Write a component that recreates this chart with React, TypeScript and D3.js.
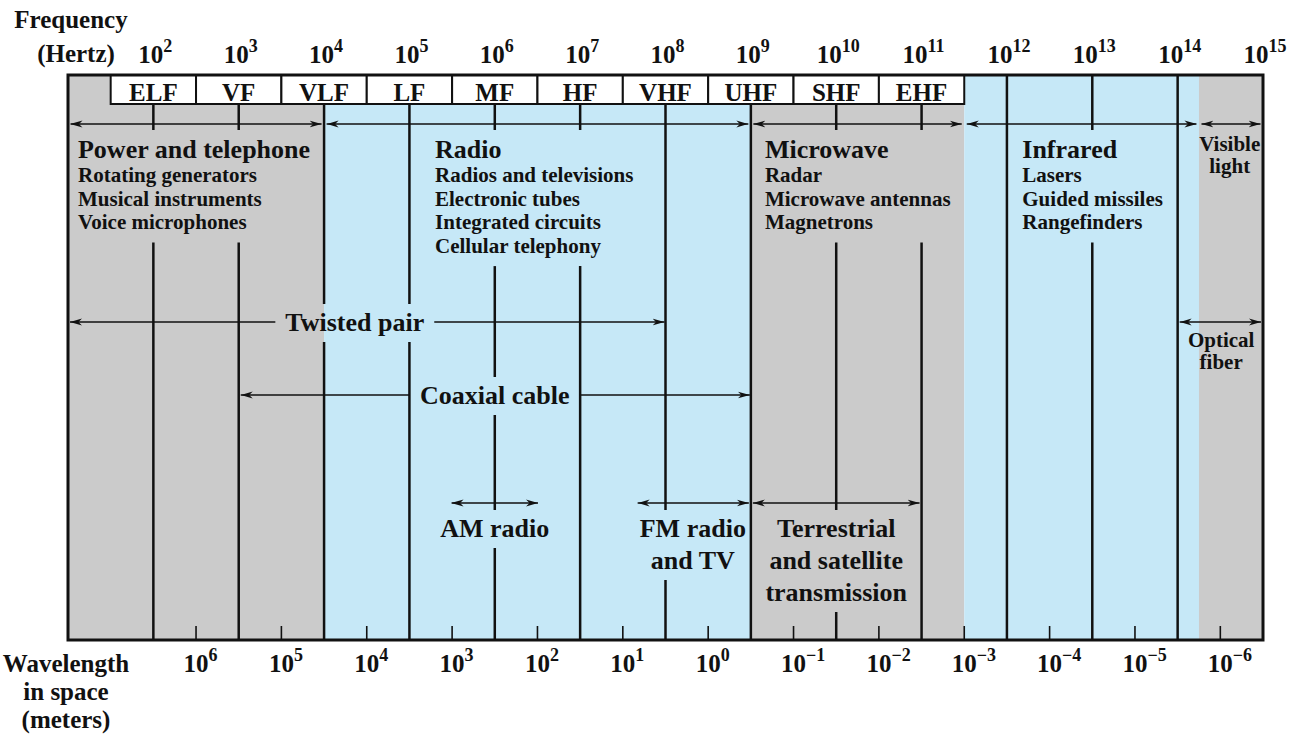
import React, { useEffect, useRef } from "react";
import * as d3 from "d3";

// ---------------- data ----------------
const FREQ_MIN = 1e1;
const FREQ_MAX = 1e15;
const FREQ_TICK_EXPONENTS = [2, 3, 4, 5, 6, 7, 8, 9, 10, 11, 12, 13, 14, 15];
const DECADE_LINE_EXPONENTS = [2, 3, 4, 5, 6, 7, 8, 9, 10, 11, 12, 13, 14];
const BAND_NAMES = ["ELF", "VF", "VLF", "LF", "MF", "HF", "VHF", "UHF", "SHF", "EHF"];
const BAND_LOWER_EXPONENTS = [1.5, 2.5, 3.5, 4.5, 5.5, 6.5, 7.5, 8.5, 9.5, 10.5];
const WAVELENGTH_EXPONENTS = [6, 5, 4, 3, 2, 1, 0, -1, -2, -3, -4, -5, -6];
const LIGHT_SPEED_DIAGRAM = 10 ** 8.5; // the figure rounds c so wavelength ticks sit on half decades
const REGION_EDGES = [1e1, 1e4, 1e9, 10 ** 11.5, 10 ** 14.25, 1e15];
const REGION_KINDS = ["gray", "blue", "gray", "blue", "gray"];

const SPECTRUM_NAMES = ["Power and telephone", "Radio", "Microwave", "Infrared", "Visible light"];
const SPECTRUM_ITEMS = [
  ["Rotating generators", "Musical instruments", "Voice microphones"],
  ["Radios and televisions", "Electronic tubes", "Integrated circuits", "Cellular telephony"],
  ["Radar", "Microwave antennas", "Magnetrons"],
  ["Lasers", "Guided missiles", "Rangefinders"],
  [],
];
const SPECTRUM_TEXT_FREQ = [10 ** 1.117, 10 ** 5.3, 10 ** 9.165, 10 ** 12.18, 10 ** 14.61];
const SPECTRUM_CUTS = [[2, 3], [6, 7], [10, 11], [13], []];

const MEDIA_NAMES = ["Twisted pair", "Coaxial cable", "Optical fiber"];
const MEDIA_FROM = [1e1, 1e3, 1e14];
const MEDIA_TO = [1e8, 1e9, 1e15];
const MEDIA_TEXT_FREQ = [10 ** 4.36, 1e6, 10 ** 14.51];
const MEDIA_CUTS = [[4, 5], [6], []];

const SERVICE_LINES = [["AM radio"], ["FM radio", "and TV"], ["Terrestrial", "and satellite", "transmission"]];
const SERVICE_FROM = [10 ** 5.47, 10 ** 7.65, 1e9];
const SERVICE_TO = [10 ** 6.53, 1e9, 1e11];
const SERVICE_TEXT_FREQ = [1e6, 10 ** 8.32, 1e10];
const SERVICE_CUTS = [[6], [8], [10]];

// ---------------- layout / style ----------------
const W = 1299;
const H = 738;
const L = {
  left: 68,
  right: 1263,
  frameTop: 75,
  bandBottom: 104,
  frameBottom: 640,
  bandLabelY: 101,
  topArrowY: 124,
  headingY: 158,
  itemY0: 182,
  itemStep: 23.7,
  visibleY0: 151,
  visibleStep: 22,
  serviceArrowY: 503,
  serviceTextY0: 537,
  serviceTextStep: 32,
  freqTickY: 63,
  waveTickY: 672,
};
const MEDIA_ROW_Y = [322, 395, 322];
const MEDIA_INLINE = [true, true, false];
const COLORS: Record<string, string> = { gray: "#cbcbcb", blue: "#c6e8f7" };
const INK = "#111";
const FS = { title: 25, tick: 25, sup: 18, band: 25, heading: 26, item: 21, label: 26, small: 21 };
const FONT = `"Liberation Serif", "Times New Roman", Times, serif`;

export default function App() {
  const ref = useRef<SVGSVGElement>(null);

  useEffect(() => {
    const svg = d3.select(ref.current as SVGSVGElement);
    svg.selectAll("*").remove();
    svg.attr("font-family", FONT).attr("font-weight", "bold").attr("fill", INK);

    const x = d3.scaleLog().domain([FREQ_MIN, FREQ_MAX]).range([L.left, L.right]);

    const defs = svg.append("defs");
    defs
      .append("marker")
      .attr("id", "ah")
      .attr("viewBox", "0 0 12 8")
      .attr("refX", 12)
      .attr("refY", 4)
      .attr("markerWidth", 12)
      .attr("markerHeight", 8)
      .attr("markerUnits", "userSpaceOnUse")
      .attr("orient", "auto-start-reverse")
      .append("path")
      .attr("d", "M0,0.6 L12,4 L0,7.4 L3.5,4 Z")
      .attr("fill", INK);

    const gBg = svg.append("g");
    const gLines = svg.append("g");
    const gArrows = svg.append("g");
    const gText = svg.append("g");
    const gFrame = svg.append("g");

    // background regions
    REGION_KINDS.forEach((k, i) => {
      gBg
        .append("rect")
        .attr("x", x(REGION_EDGES[i]))
        .attr("width", x(REGION_EDGES[i + 1]) - x(REGION_EDGES[i]))
        .attr("y", L.frameTop)
        .attr("height", L.frameBottom - L.frameTop)
        .attr("fill", COLORS[k]);
    });

    const gaps = new Map<number, [number, number][]>();
    const addGap = (k: number, a: number, b: number) => {
      if (!gaps.has(k)) gaps.set(k, []);
      gaps.get(k)!.push([a, b]);
    };

    const arrow = (x1: number, x2: number, y: number, start: boolean, end: boolean) => {
      const ln = gArrows
        .append("line")
        .attr("x1", x1)
        .attr("x2", x2)
        .attr("y1", y)
        .attr("y2", y)
        .attr("stroke", INK)
        .attr("stroke-width", 1.4);
      if (start) ln.attr("marker-start", "url(#ah)");
      if (end) ln.attr("marker-end", "url(#ah)");
    };

    // spectrum blocks (top arrows + descriptions)
    SPECTRUM_NAMES.forEach((name, i) => {
      arrow(x(REGION_EDGES[i]) + 2.5, x(REGION_EDGES[i + 1]) - 2.5, L.topArrowY, true, true);
      const g = gText.append("g");
      const items = SPECTRUM_ITEMS[i];
      const tx = x(SPECTRUM_TEXT_FREQ[i]);
      if (items.length) {
        g.append("text").attr("x", tx).attr("y", L.headingY).attr("font-size", FS.heading).text(name);
        items.forEach((it, j) => {
          g.append("text")
            .attr("x", tx)
            .attr("y", L.itemY0 + j * L.itemStep)
            .attr("font-size", FS.item)
            .text(it);
        });
      } else {
        name.split(" ").forEach((w, j) => {
          g.append("text")
            .attr("x", tx)
            .attr("y", L.visibleY0 + j * L.visibleStep)
            .attr("text-anchor", "middle")
            .attr("font-size", FS.small)
            .text(w);
        });
      }
      const bb = (g.node() as SVGGElement).getBBox();
      SPECTRUM_CUTS[i].forEach((k) => addGap(k, bb.y - 5, bb.y + bb.height + 8));
    });

    // transmission media
    MEDIA_NAMES.forEach((name, i) => {
      const y = MEDIA_ROW_Y[i];
      const g = gText.append("g");
      const tx = x(MEDIA_TEXT_FREQ[i]);
      if (MEDIA_INLINE[i]) {
        g.append("text")
          .attr("x", tx)
          .attr("y", y + 9)
          .attr("text-anchor", "middle")
          .attr("font-size", FS.label)
          .text(name);
        const bb = (g.node() as SVGGElement).getBBox();
        arrow(x(MEDIA_FROM[i]) + 2, bb.x - 10, y, true, false);
        arrow(bb.x + bb.width + 10, x(MEDIA_TO[i]) - 1, y, false, true);
        MEDIA_CUTS[i].forEach((k) => addGap(k, bb.y - 4, bb.y + bb.height + 5));
      } else {
        arrow(x(MEDIA_FROM[i]) + 2, x(MEDIA_TO[i]) - 2, y, true, true);
        name.split(" ").forEach((w, j) => {
          g.append("text")
            .attr("x", tx)
            .attr("y", y + 25 + j * 22)
            .attr("text-anchor", "middle")
            .attr("font-size", FS.small)
            .text(w);
        });
        const bb = (g.node() as SVGGElement).getBBox();
        MEDIA_CUTS[i].forEach((k) => addGap(k, bb.y - 4, bb.y + bb.height + 5));
      }
    });

    // services
    SERVICE_LINES.forEach((lines, i) => {
      arrow(x(SERVICE_FROM[i]) + 2, x(SERVICE_TO[i]) - 2, L.serviceArrowY, true, true);
      const g = gText.append("g");
      const tx = x(SERVICE_TEXT_FREQ[i]);
      lines.forEach((t, j) => {
        g.append("text")
          .attr("x", tx)
          .attr("y", L.serviceTextY0 + j * L.serviceTextStep)
          .attr("text-anchor", "middle")
          .attr("font-size", FS.label)
          .text(t);
      });
      const bb = (g.node() as SVGGElement).getBBox();
      SERVICE_CUTS[i].forEach((k) => addGap(k, L.serviceArrowY + 7, bb.y + bb.height + 5));
    });

    // decade lines with gaps where text sits
    const bandLo = BAND_LOWER_EXPONENTS[0];
    const bandHi = BAND_LOWER_EXPONENTS[BAND_LOWER_EXPONENTS.length - 1] + 1;
    DECADE_LINE_EXPONENTS.forEach((k) => {
      const xx = x(10 ** k);
      const y0 = k > bandLo && k < bandHi ? L.bandBottom : L.frameTop;
      const gs = (gaps.get(k) || []).slice().sort((a, b) => a[0] - b[0]);
      let cur = y0;
      const segs: [number, number][] = [];
      gs.forEach(([a, b]) => {
        if (a > cur) segs.push([cur, a]);
        cur = Math.max(cur, b);
      });
      if (cur < L.frameBottom) segs.push([cur, L.frameBottom]);
      segs.forEach(([a, b]) => {
        gLines
          .append("line")
          .attr("x1", xx)
          .attr("x2", xx)
          .attr("y1", a)
          .attr("y2", b)
          .attr("stroke", INK)
          .attr("stroke-width", 2.5);
      });
    });

    // wavelength ticks at bottom
    WAVELENGTH_EXPONENTS.forEach((e) => {
      const xx = x(LIGHT_SPEED_DIAGRAM / 10 ** e);
      gLines
        .append("line")
        .attr("x1", xx)
        .attr("x2", xx)
        .attr("y1", L.frameBottom - 14)
        .attr("y2", L.frameBottom)
        .attr("stroke", INK)
        .attr("stroke-width", 1.6);
      const t = gText
        .append("text")
        .attr("x", xx - FS.tick * 0.5)
        .attr("y", L.waveTickY)
        .attr("font-size", FS.tick);
      t.append("tspan").text("10");
      t.append("tspan")
        .attr("dy", -11)
        .attr("font-size", FS.sup)
        .text(e < 0 ? "\u2212" + Math.abs(e) : String(e));
    });

    // frequency tick labels at top
    FREQ_TICK_EXPONENTS.forEach((e) => {
      const t = gText
        .append("text")
        .attr("x", x(10 ** e) + 2)
        .attr("y", L.freqTickY)
        .attr("text-anchor", "middle")
        .attr("font-size", FS.tick);
      t.append("tspan").text("10");
      t.append("tspan").attr("dy", -11).attr("font-size", FS.sup).text(String(e));
    });

    // band boxes
    BAND_NAMES.forEach((b, i) => {
      const x0 = x(10 ** BAND_LOWER_EXPONENTS[i]);
      const x1 = x(10 ** (BAND_LOWER_EXPONENTS[i] + 1));
      gFrame
        .append("rect")
        .attr("x", x0)
        .attr("y", L.frameTop)
        .attr("width", x1 - x0)
        .attr("height", L.bandBottom - L.frameTop)
        .attr("fill", "#fff")
        .attr("stroke", INK)
        .attr("stroke-width", 2);
      gFrame
        .append("text")
        .attr("x", (x0 + x1) / 2)
        .attr("y", L.bandLabelY)
        .attr("text-anchor", "middle")
        .attr("font-size", FS.band)
        .text(b);
    });

    // outer frame
    gFrame
      .append("rect")
      .attr("x", L.left)
      .attr("y", L.frameTop)
      .attr("width", L.right - L.left)
      .attr("height", L.frameBottom - L.frameTop)
      .attr("fill", "none")
      .attr("stroke", INK)
      .attr("stroke-width", 3);

    // axis titles
    const titles: [string, number, number][] = [
      ["Frequency", 71, 28],
      ["(Hertz)", 76, 62],
      ["Wavelength", 66, 672],
      ["in space", 66, 700],
      ["(meters)", 66, 728],
    ];
    titles.forEach(([s, tx, ty]) => {
      gText
        .append("text")
        .attr("x", tx)
        .attr("y", ty)
        .attr("text-anchor", "middle")
        .attr("font-size", FS.title)
        .text(s);
    });
  }, []);

  return (
    <svg
      ref={ref}
      width={W}
      height={H}
      style={{ position: "absolute", left: 0, top: 0, display: "block", background: "#fff" }}
    />
  );
}
